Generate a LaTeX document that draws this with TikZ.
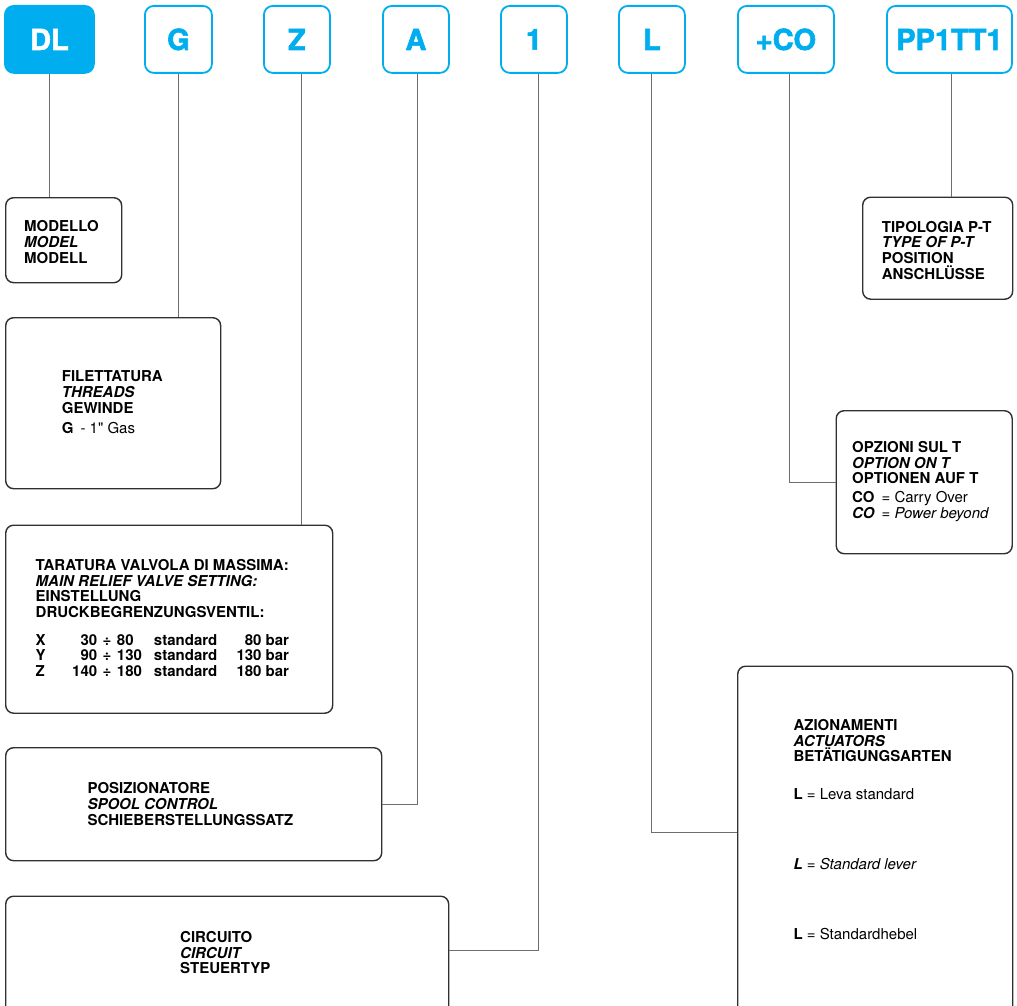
\documentclass[tikz,border=0pt]{standalone}
\usepackage{fontspec}
\setmainfont{TeX Gyre Heros}[Ligatures=TeXOff]
\newfontfamily\codefont{TeX Gyre Heros}[BoldFeatures={FakeBold=2}]
\definecolor{codeblue}{HTML}{00AEEF}
\definecolor{framegray}{HTML}{303030}
\definecolor{wiregray}{HTML}{6E6E6E}
% one row of the relief valve table
\newcommand{\valverow}[4]{\rlap{#1}\makebox[61.5pt][r]{#2}\hspace{5.5pt}÷\hspace{5.5pt}\makebox[37pt][l]{#3}standard\makebox[71.7pt][r]{#4 bar}}

\begin{document}
\begin{tikzpicture}[x=1pt,y=-1pt,
  code/.style={draw=codeblue,line width=1.8pt,rounded corners=9pt,minimum height=67pt,
    anchor=north west,inner sep=0pt,text=codeblue,font=\codefont\bfseries\fontsize{29}{29}\selectfont},
  infobox/.style={draw=framegray,line width=1.4pt,rounded corners=8pt,anchor=north west,inner sep=0pt},
  infotext/.style={anchor=north west,inner sep=0pt,align=left,font=\fontsize{15}{15.8}\selectfont\bfseries},
  link/.style={draw=wiregray,line width=0.9pt}]
  \useasboundingbox (0,0) rectangle (1017,1006);
  \clip (0,0) rectangle (1017,1006);
  % code boxes
  \node[code,fill=codeblue,text=white,minimum width=89pt] (dl) at (4,5) {DL};
  \node[code,minimum width=67pt] (g) at (144,5) {G};
  \node[code,minimum width=66pt] (z) at (263,5) {Z};
  \node[code,minimum width=66pt] (a) at (382,5) {A};
  \node[code,minimum width=66pt] (one) at (500,5) {1};
  \node[code,minimum width=66pt] (l) at (618,5) {L};
  \node[code,minimum width=96pt] (co) at (737,5) {+CO};
  \node[code,minimum width=125pt] (pp) at (886,5) {PP1TT1};
  % description boxes
  \node[infobox,minimum width=116pt,minimum height=85pt] (modello) at (5,197) {};
  \node[infobox,minimum width=215pt,minimum height=171pt] (filet) at (5,317) {};
  \node[infobox,minimum width=327pt,minimum height=188pt] (tara) at (5,524.5) {};
  \node[infobox,minimum width=376pt,minimum height=113pt] (posiz) at (5,747) {};
  \node[infobox,minimum width=443pt,minimum height=120pt] (circ) at (5,895.5) {};
  \node[infobox,minimum width=150pt,minimum height=102pt] (tipo) at (862,196.5) {};
  \node[infobox,minimum width=176pt,minimum height=143pt] (opz) at (835.5,410) {};
  \node[infobox,minimum width=275pt,minimum height=350pt] (azion) at (737,665.5) {};
  % texts
  \node[infotext] (modello-t) at (24,220.5) {MODELLO\\\textit{MODEL}\\MODELL};
  \node[infotext] (filet-t) at (61.7,370.5) {FILETTATURA\\\textit{THREADS}\\GEWINDE\\[4pt]G\hspace{7pt}{\mdseries - 1" Gas}};
  \node[infotext] (tara-t) at (35.5,559) {TARATURA VALVOLA DI MASSIMA:\\\textit{MAIN RELIEF VALVE SETTING:}\\EINSTELLUNG\\DRUCKBEGRENZUNGSVENTIL:\\[11.5pt]%
    \valverow{X}{30}{80}{80}\\\valverow{Y}{90}{130}{130}\\\valverow{Z}{140}{180}{180}};
  \node[infotext] (posiz-t) at (87.3,782.3) {POSIZIONATORE\\\textit{SPOOL CONTROL}\\SCHIEBERSTELLUNGSSATZ};
  \node[infotext] (circ-t) at (180,931) {CIRCUITO\\\textit{CIRCUIT}\\STEUERTYP};
  \node[infotext] (tipo-t) at (881.7,220.7) {TIPOLOGIA P-T\\\textit{TYPE OF P-T}\\POSITION\\ANSCHLÜSSE};
  \node[infotext] (opz-t) at (852,441) {OPZIONI SUL T\\\textit{OPTION ON T}\\OPTIONEN AUF T\\[3pt]CO\hspace{7pt}{\mdseries = Carry Over}\\\textit{CO}\hspace{7pt}{\mdseries\itshape = Power beyond}};
  \node[infotext] (azion-t) at (793.3,719) {AZIONAMENTI\\\textit{ACTUATORS}\\BETÄTIGUNGSARTEN\\[22pt]L {\mdseries = Leva standard}\\[54pt]\textit{L} {\mdseries\itshape = Standard lever}\\[54pt]L {\mdseries = Standardhebel}};
  % connectors
  \draw[link] (dl.south) -- (dl.south |- modello.north);
  \draw[link] (g.south) -- (g.south |- filet.north);
  \draw[link] ([xshift=5pt]z.south) -- ([xshift=5pt]z.south |- tara.north);
  \draw[link] ([xshift=1.7pt]a.south) |- (posiz.east);
  \draw[link] ([xshift=5pt]one.south) |- ([yshift=5.5pt]circ.east);
  \draw[link] (l.south) |- ([yshift=9pt]azion.west);
  \draw[link] ([xshift=4pt]co.south) |- (opz.west);
  \draw[link] ([xshift=2.5pt]pp.south) -- ([xshift=2.5pt]pp.south |- tipo.north);
\end{tikzpicture}
\end{document}
